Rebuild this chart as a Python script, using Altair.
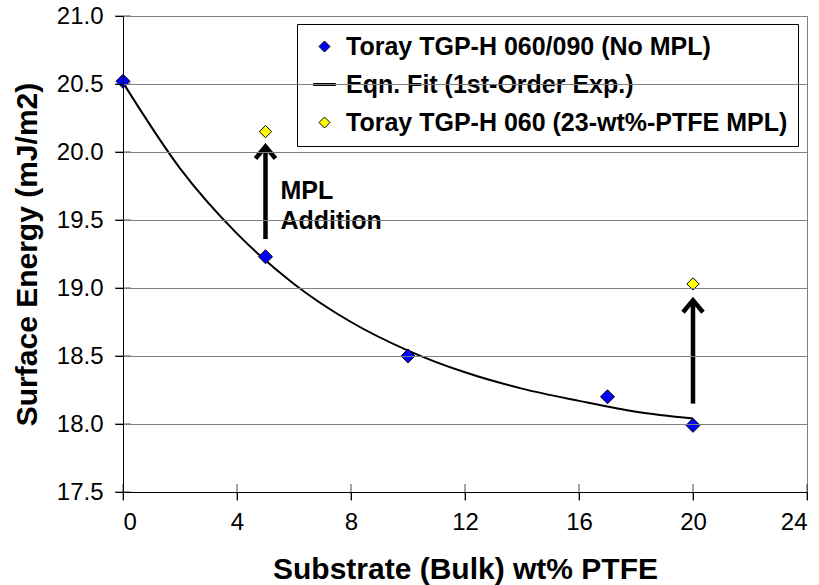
import altair as alt
import pandas as pd

# --- data ---
series_names = [
    "Toray TGP-H 060/090 (No MPL)",
    "Eqn. Fit (1st-Order Exp.)",
    "Toray TGP-H 060 (23-wt%-PTFE MPL)",
]
blue_x = [0, 5, 10, 17, 20]
blue_y = [20.52, 19.23, 18.50, 18.20, 17.99]
mpl_x = [5, 20]
mpl_y = [20.15, 19.03]
fit_x = [0, 2, 4, 6, 8, 10, 12, 14, 16, 18, 20]
fit_y = [20.51, 19.88, 19.40, 19.03, 18.75, 18.54, 18.38, 18.26, 18.17, 18.09, 18.04]
arrow_x = [5, 20]
arrow_from = [19.36, 18.15]
arrow_to = [20.04, 18.91]
note_x = [5]
note_y = [19.71]
note_text = ["MPL\nAddition"]
x_ticks = [0, 4, 8, 12, 16, 20, 24]
y_ticks = [17.5, 18.0, 18.5, 19.0, 19.5, 20.0, 20.5, 21.0]

FONT = "Liberation Sans"
DIAMOND = "M0,-0.5L0.5,0L0,0.5L-0.5,0Z"
BAR = "M-1,-0.09H1V0.09H-1Z"

blue_df = pd.DataFrame({"x": blue_x, "y": blue_y, "series": series_names[0]})
mpl_df = pd.DataFrame({"x": mpl_x, "y": mpl_y, "series": series_names[2]})
fit_df = pd.DataFrame({"x": fit_x, "y": fit_y})
arrow_df = pd.DataFrame({"x": arrow_x, "y": arrow_from, "y2": arrow_to})
note_df = pd.DataFrame({"x": note_x, "y": note_y, "t": note_text})
xt_df = pd.DataFrame({"x": x_ticks})
yt_df = pd.DataFrame({"y": y_ticks})

xs = alt.Scale(domain=[0, 24], nice=False)
ys = alt.Scale(domain=[17.5, 21.0], nice=False)

x_axis = alt.Axis(
    values=x_ticks, format="d", title="Substrate (Bulk) wt% PTFE",
    grid=False, tickSize=8, tickColor="black", domainColor="black",
    labelFontSize=24, labelPadding=10, labelFont=FONT, labelColor="black",
    titleFont=FONT, titleFontSize=30, titleFontWeight="bold", titleColor="black",
    titleY=86, titleBaseline="alphabetic", zindex=1,
)
y_axis = alt.Axis(
    values=y_ticks, format=".1f", title="Surface Energy (mJ/m2)",
    grid=True, gridColor="#808080", gridWidth=1,
    tickSize=8, tickColor="black", domainColor="black",
    labelFontSize=24, labelPadding=12, labelFont=FONT, labelColor="black",
    titleFont=FONT, titleFontSize=30, titleFontWeight="bold", titleColor="black",
    titleX=-87, titleY=238, titleAlign="center", titleBaseline="alphabetic",
    zindex=1,
)

color_enc = alt.Color(
    "series:N", title=None,
    scale=alt.Scale(domain=series_names, range=["#0000FF", "black", "#FFFF00"]),
    legend=alt.Legend(
        orient="none", legendX=174, legendY=8,
        strokeColor="black", fillColor="white", padding=10,
        labelFont=FONT, labelFontSize=25, labelFontWeight="bold", labelColor="black",
        labelLimit=700, labelOffset=9, symbolOffset=5,
        symbolSize=484, symbolStrokeColor="black", symbolStrokeWidth=1,
        rowPadding=12,
    ),
)
shape_enc = alt.Shape(
    "series:N", title=None,
    scale=alt.Scale(domain=series_names, range=[DIAMOND, BAR, DIAMOND]),
)

fit = alt.Chart(fit_df).mark_line(color="black", strokeWidth=2, interpolate="monotone").encode(
    x=alt.X("x:Q", scale=xs, axis=x_axis),
    y=alt.Y("y:Q", scale=ys, axis=y_axis),
)

blue = alt.Chart(blue_df).mark_point(filled=True, opacity=1, stroke="black", strokeWidth=1, size=784).encode(
    x="x:Q", y="y:Q", color=color_enc, shape=shape_enc,
)
mpl = alt.Chart(mpl_df).mark_point(filled=True, opacity=1, stroke="black", strokeWidth=1, size=605).encode(
    x="x:Q", y="y:Q", color=color_enc, shape=shape_enc,
)

shaft = alt.Chart(arrow_df).mark_rule(color="black", strokeWidth=4.5).encode(
    x="x:Q", y="y:Q", y2="y2:Q",
)
head = alt.Chart(arrow_df).mark_point(
    shape="M-1,1.2L0,0L1,1.2", size=400, filled=False, stroke="black",
    strokeWidth=4.5, opacity=1, strokeJoin="miter", strokeCap="butt",
).encode(x="x:Q", y="y2:Q")

note = alt.Chart(note_df).mark_text(
    font=FONT, fontSize=25, fontWeight="bold", align="left", baseline="middle",
    dx=15, lineBreak="\n", lineHeight=30, color="black",
).encode(x="x:Q", y="y:Q", text="t:N")

x_inner = alt.Chart(xt_df).mark_tick(color="black", thickness=1, size=16, orient="vertical").encode(
    x="x:Q", y=alt.value(476),
)
y_inner = alt.Chart(yt_df).mark_tick(color="black", thickness=1, size=16, orient="horizontal").encode(
    y="y:Q", x=alt.value(0),
)

chart = alt.layer(fit, x_inner, y_inner, blue, mpl, shaft, head, note).properties(
    width=684, height=476,
    autosize=alt.AutoSizeParams(type="none"),
    padding={"left": 123, "top": 16, "right": 12, "bottom": 93},
    background="white",
).configure_view(stroke="#808080", strokeWidth=1)

chart.save("out.html", embed_options={"renderer": "svg", "actions": False})
